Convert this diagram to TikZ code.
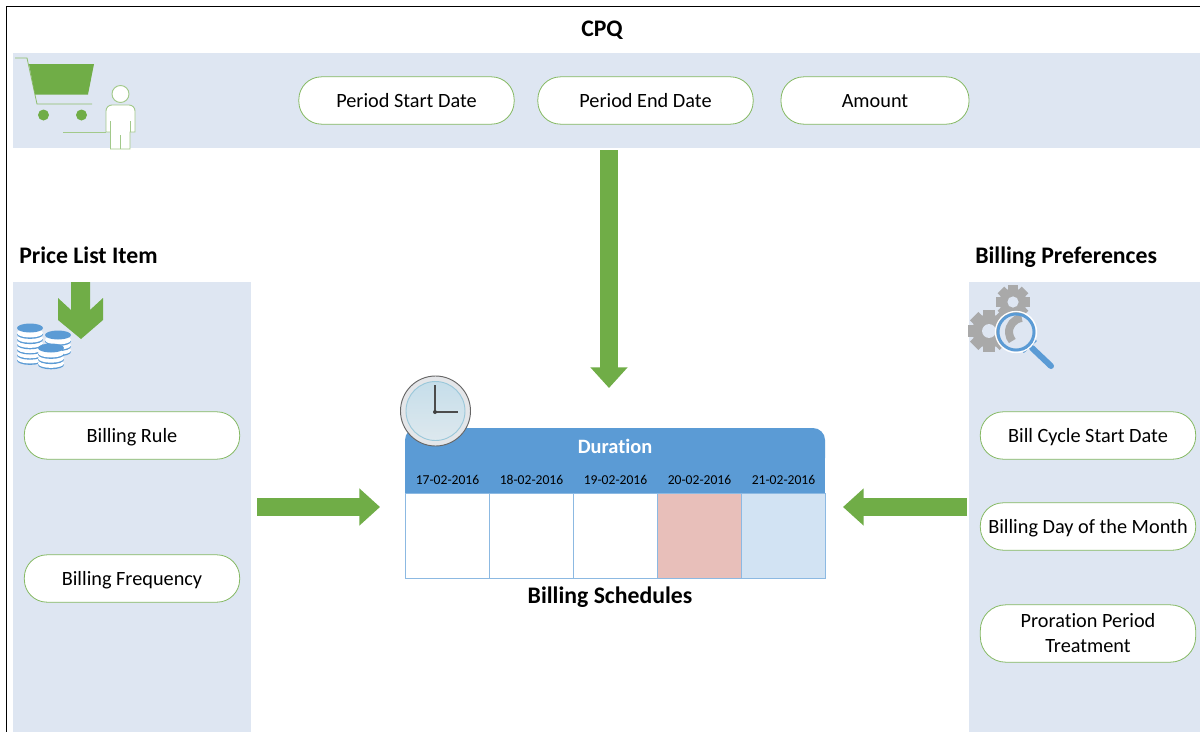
\documentclass[tikz,border=0pt]{standalone}
\usepackage{fontspec}
\setmainfont[Ligatures=NoCommon]{Carlito}
\usetikzlibrary{arrows.meta}
\definecolor{bandblue}{HTML}{DEE6F2}
\definecolor{hdrblue}{HTML}{5B9BD5}
\definecolor{leafgreen}{HTML}{70AD47}
\definecolor{palegreen}{HTML}{A2C98A}
\definecolor{gearbase}{HTML}{A9A9A9}
\definecolor{cellpink}{HTML}{E8BFBA}
\definecolor{cellblue}{HTML}{D2E3F3}
\definecolor{clockrim}{HTML}{E4E6E9}
\definecolor{clocktop}{HTML}{C6DEEA}
\definecolor{clockbot}{HTML}{DDE8EE}
\tikzset{
  band/.style={fill=bandblue},
  pill/.style={draw=leafgreen!85!white, fill=white, line width=.6pt, rounded corners=17pt, minimum width=161.5pt, minimum height=35.5pt, inner sep=0pt, align=center, font=\fontsize{15.2}{18.75}\selectfont},
  shortpill/.style={pill, text height=12.4pt, text depth=2.2pt},
  heading/.style={font=\fontsize{17.8}{20}\selectfont\bfseries, inner sep=0pt},
  cell/.style={draw=hdrblue!70, line width=.6pt, minimum width=63pt, minimum height=63.75pt, inner sep=0pt},
  datelabel/.style={font=\fontsize{10.2}{12}\selectfont, inner sep=0pt},
  bigarrow/.style={leafgreen, line width=13.5pt, -{Triangle[length=15.5pt,width=27pt]}},
  iconline/.style={draw=palegreen, line width=.7pt}
}
\newcommand{\gearicon}[3]{
  \foreach \ang in {0,45,...,315}{
    \draw[gearbase, line width=#3*.42pt] (#1,#2) ++(\ang:#3*.7) -- ++(\ang:#3*.3);
  }
  \fill[gearbase] (#1,#2) circle[radius=#3*.8];
  \fill[bandblue] (#1,#2) circle[radius=#3*.33];
}
\newcommand{\coinstack}[3]{
  \foreach \lvl in {#3,...,1}{
    \fill[hdrblue] (#1,#2+5.2*\lvl+1.2) circle[x radius=13, y radius=4.5];
    \fill[white] (#1,#2+5.2*\lvl-.2) circle[x radius=13, y radius=4.5];
  }
  \fill[hdrblue] (#1,#2) circle[x radius=13, y radius=4.5];
}
\begin{document}
\begin{tikzpicture}[x=.75pt,y=-.75pt]
\useasboundingbox (0,0) rectangle (1200,732);
\fill[white] (0,0) rectangle (1200,732);
\draw[black, line width=1.1pt] (6.5,732) -- (6.5,6.5) -- (1200,6.5);
\fill[band] (13,53) rectangle (1200,148);
\fill[band] (13,282) rectangle (251,732);
\fill[band] (969,282) rectangle (1200,732);
\node[heading, anchor=base] (cpq) at (602,36){CPQ};
\node[heading, anchor=base west] (pricelist) at (19,263){Price List Item};
\node[heading, anchor=base west] (prefs) at (975,263){Billing Preferences};
\node[heading, anchor=base] (schedules) at (610,603){Billing Schedules};
\node[shortpill] (pstart) at (406.5,100.5){Period Start Date};
\node[shortpill] (pend) at (645.5,100.5){Period End Date};
\node[shortpill, minimum width=141pt] (amount) at (875,100.5){Amount};
\node[shortpill] (rule) at (132,435.5){Billing Rule};
\node[shortpill] (freq) at (132,578.5){Billing Frequency};
\node[shortpill] (cycle) at (1088,435.5){Bill Cycle Start Date};
\node[shortpill] (billday) at (1088,526.5){Billing Day of the Month};
\node[pill, minimum height=43pt, rounded corners=19pt] (proration) at (1088,633.5){Proration Period\\Treatment};
\fill[hdrblue, rounded corners=9pt] (405,470) -- (405,428) -- (825,428) -- (825,470) -- cycle;
\fill[hdrblue] (405,450) rectangle (825,493);
\node[font=\fontsize{15.3}{18}\selectfont\bfseries, text=white, anchor=base, inner sep=0pt] (duration) at (615,453){Duration};
\foreach \idx/\dayno/\tint in {0/17/white,1/18/white,2/19/white,3/20/cellpink,4/21/cellblue}{
  \node[cell, fill=\tint] (cell\idx) at (447+84*\idx,535.5){};
  \node[datelabel] (date\idx) at (447.5+84*\idx,479.5){\dayno-02-2016};
}
\coordinate (cpqout) at (609,150);
\coordinate (durin) at (609,388);
\coordinate (ruleout) at (257,507);
\coordinate (cellin) at (380,507);
\coordinate (prefout) at (967,507);
\coordinate (cellinr) at (843,507);
\draw[bigarrow] (cpqout) -- (durin);
\draw[bigarrow] (ruleout) -- (cellin);
\draw[bigarrow] (prefout) -- (cellinr);
\fill[leafgreen] (71,282) -- (90,282) -- (90,310) -- (103,298) -- (103,320) -- (81,339) -- (58,320) -- (58,298) -- (71,310) -- cycle;
% cart
\draw[leafgreen!80!white, line width=.6pt] (15,58) -- (27,58) -- (37,104) -- (92,104);
\fill[leafgreen] (29,64) -- (94,64) -- (88,94.5) -- (35,94.5) -- cycle;
\fill[leafgreen] (43.5,115) circle[radius=5.5];
\fill[leafgreen] (81.5,115) circle[radius=5.5];
\draw[iconline] (63,132) -- (106,132);
\draw[iconline, fill=white] (106,132) [rounded corners=4.5pt] -- (106,105) -- (135,105) -- (135,118) [sharp corners] -- (135,132) -- (130,132) -- (130,149) -- (110.5,149) -- (110.5,132) -- cycle;
\draw[iconline] (110.5,121) -- (110.5,132);
\draw[iconline] (130,121) -- (130,132);
\draw[iconline] (120,135) -- (120,149);
\draw[iconline, fill=white] (120.5,94) circle[radius=8.5];
% coins
\coinstack{30}{328}{6}
\coinstack{58}{335}{3}
\coinstack{51}{348}{3}
% gears
\gearicon{1013}{302}{17}
\gearicon{989}{331}{21}
\draw[hdrblue, line cap=round, line width=4.5pt] (1032,348) -- (1051,366);
\draw[bandblue, line width=3.2pt] (1022,352) -- (1037,338);
\draw[hdrblue, line width=2pt] (1023,352) -- (1036,340);
\fill[bandblue] (1016,332) circle[radius=17];
\draw[gearbase, line width=6pt] (1021.8,318) arc[start angle=-95, end angle=-220, radius=14];
\draw[white, line width=1pt] (1016,332) circle[radius=20.5];
\draw[hdrblue, line width=2.2pt] (1016,332) circle[radius=18];
% clock
\draw[black!60, fill=clockrim, line width=.7pt] (435.5,411) circle[radius=35];
\draw[draw=gray!50!cyan!60, top color=clocktop, bottom color=clockbot, line width=.7pt] (435.5,411) circle[radius=29.5];
\draw[black!70, line width=1.2pt] (435,412) -- (435,385);
\draw[black!70, line width=1.2pt] (435,412) -- (458,412);
\fill[black!75] (435,412) circle[radius=2];
\end{tikzpicture}
\end{document}
